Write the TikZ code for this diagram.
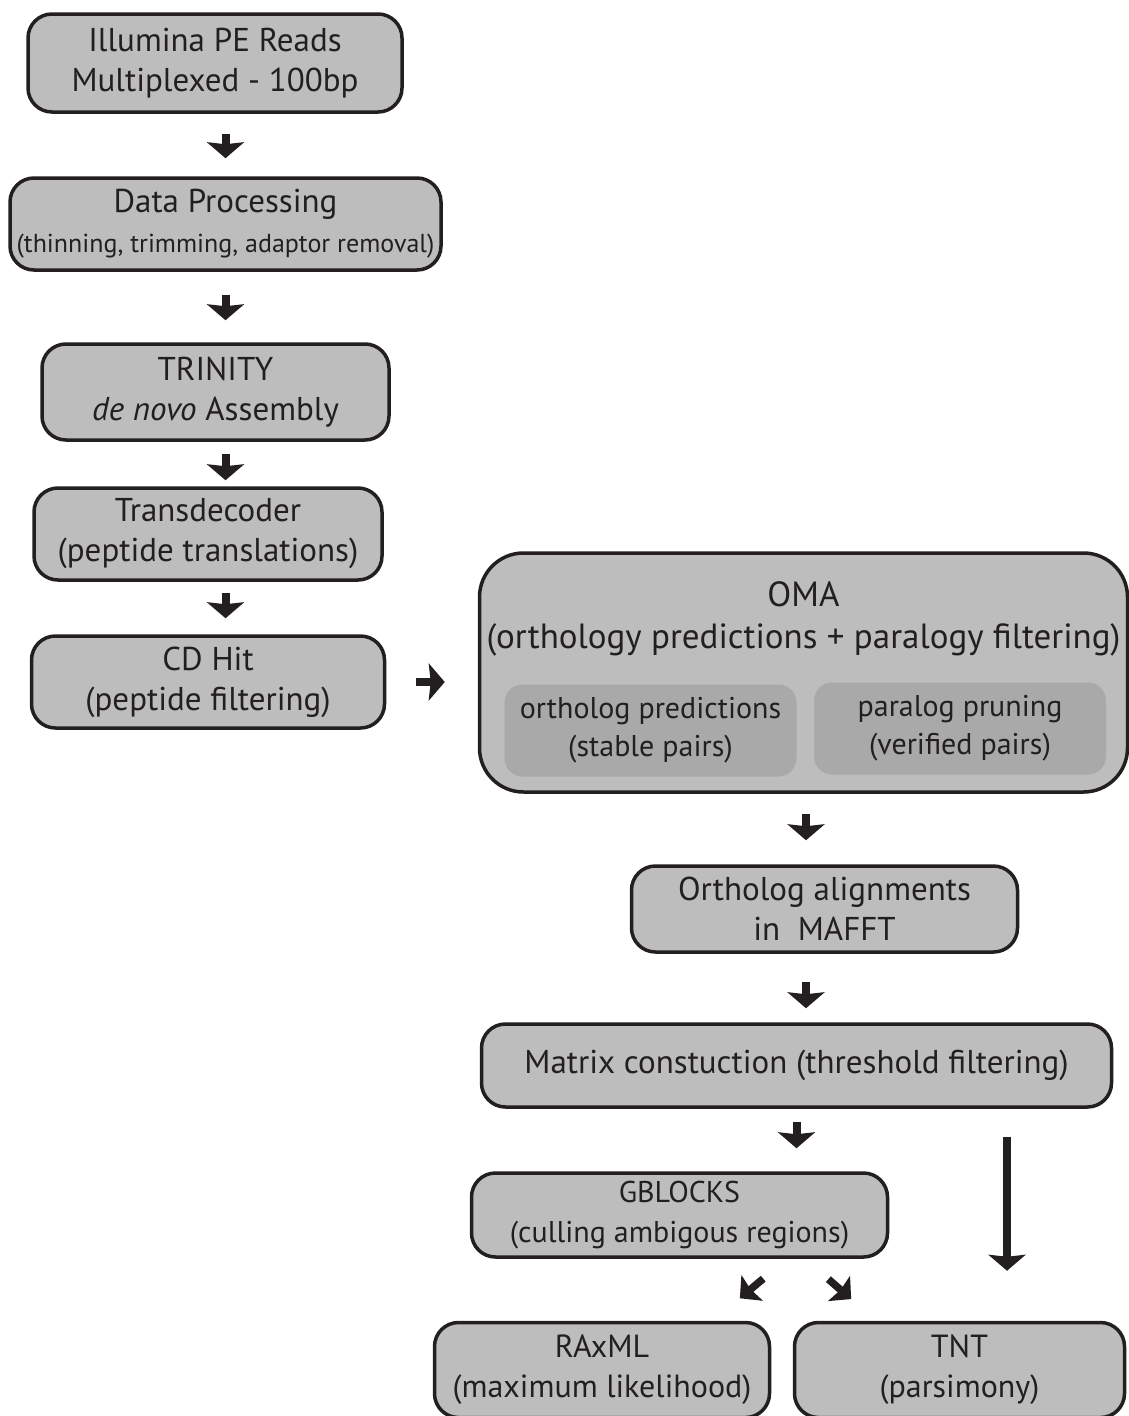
\documentclass[tikz,border=0pt]{standalone}
\usepackage{fontspec}
\setmainfont{PT Sans}
\usetikzlibrary{arrows.meta, positioning}

\definecolor{boxgray}{HTML}{BDBDBD}
\definecolor{subgray}{HTML}{A9A9A9}
\definecolor{ink}{HTML}{231F20}

\begin{document}
\begin{tikzpicture}[x=1pt, y=1pt,
    on grid,
    step box/.style={rectangle, rounded corners=24pt, draw=ink, line width=3.5pt, fill=boxgray, text=ink, align=center, inner sep=0pt, font=\fontsize{33}{40}\selectfont},
    sub box/.style={rectangle, rounded corners=18pt, fill=subgray, text=ink, align=center, inner sep=0pt, minimum width=292pt, minimum height=92pt, font=\fontsize{30}{38}\selectfont},
    flow/.style={-{Stealth[length=16pt, width=37pt, inset=2pt]}, line width=8pt, draw=ink},
    smallflow/.style={-{Stealth[length=16pt, width=33pt, inset=2pt]}, line width=7.5pt, draw=ink}
    ]
    \useasboundingbox (0,0) rectangle (1128,-1416);
    % Nodes
    \node[step box, minimum width=374pt, minimum height=98pt] (reads) at (215,-63) {Illumina PE Reads\\Multiplexed - 100bp};
    \node[step box, minimum width=431pt, minimum height=92pt] (proc) [below=161pt of reads, xshift=10.5pt] {Data Processing\\[0pt]{\fontsize{26}{30}\selectfont(thinning, trimming, adaptor removal)}};
    \node[step box, minimum width=347pt, minimum height=96pt] (trinity) [below=168pt of proc, xshift=-10pt] {TRINITY\\\textit{de novo} Assembly};
    \node[step box, minimum width=348pt, minimum height=92pt] (transdec) [below=142pt of trinity, xshift=-7.5pt] {Transdecoder\\(peptide translations)};
    \node[step box, minimum width=353pt, minimum height=92pt] (cdhit) [below=148pt of transdec] {CD Hit\\(peptide filtering)};
    \node[step box, rounded corners=44pt, minimum width=648pt, minimum height=239pt] (oma) [right=595.5pt of cdhit, yshift=9.5pt] {};
    \node[text=ink, align=center, font=\fontsize{35}{42}\selectfont] (omatitle) at ([yshift=-68pt]oma.north) {OMA\\(orthology predictions + paralogy filtering)};
    \node[sub box] (orthpred) [below left=58pt and 153pt of oma] {ortholog predictions\\(stable pairs)};
    \node[sub box] (paraprune) [right=309.5pt of orthpred, yshift=2pt] {paralog pruning\\(verified pairs)};
    \node[step box, minimum width=386pt, minimum height=86pt] (align) [below=236.5pt of oma, xshift=21pt] {Ortholog alignments\\in~ MAFFT};
    \node[step box, minimum width=630pt, minimum height=83pt] (matrix) [below=156.5pt of align, xshift=-28pt] {Matrix constuction (threshold filtering)};
    \node[step box, minimum width=416pt, minimum height=84pt, font=\fontsize{30}{40}\selectfont] (gblocks) [below=149.5pt of matrix, xshift=-117pt] {GBLOCKS\\(culling ambigous regions)};
    \node[step box, minimum width=335pt, minimum height=95pt, font=\fontsize{32}{40}\selectfont] (raxml) [below=155pt of gblocks, xshift=-77.5pt] {RAxML\\(maximum likelihood)};
    \node[step box, minimum width=330pt, minimum height=95pt, font=\fontsize{32}{40}\selectfont] (tnt) [right=357.5pt of raxml] {TNT\\(parsimony)};
    % Edges
    \draw[flow, shorten <=20pt, shorten >=18pt] (reads.south -| proc.north) -- (proc.north);
    \draw[flow, shorten <=23pt, shorten >=22pt] (proc.south) -- (trinity.north -| proc.south);
    \draw[flow, shorten <=12pt, shorten >=6pt] (trinity.south -| proc.south) -- (transdec.north -| proc.south);
    \draw[flow, shorten <=11pt, shorten >=16pt] (transdec.south -| proc.south) -- (cdhit.north -| proc.south);
    \draw[flow, shorten <=30pt, shorten >=33pt] (cdhit.east) -- (cdhit.east -| oma.west);
    \draw[flow, shorten <=20pt, shorten >=24pt] (oma.south -| 806,0) -- (align.north -| 806,0);
    \draw[flow, shorten <=28pt, shorten >=14pt] (align.south -| 806,0) -- (matrix.north -| 806,0);
    \draw[flow, shorten <=13pt, shorten >=23pt] (matrix.south) -- (gblocks.north -| matrix.south);
    \draw[flow, shorten <=28pt, shorten >=50pt] (matrix.south -| 1007,0) -- (tnt.north -| 1007,0);
    \draw[smallflow, shorten <=31pt, shorten >=35pt] (gblocks.south -| 787,0) -- (raxml.north -| 713,0);
    \draw[smallflow, shorten <=31pt, shorten >=33pt] (gblocks.south -| 805,0) -- (raxml.north -| 876,0);
\end{tikzpicture}
\end{document}
